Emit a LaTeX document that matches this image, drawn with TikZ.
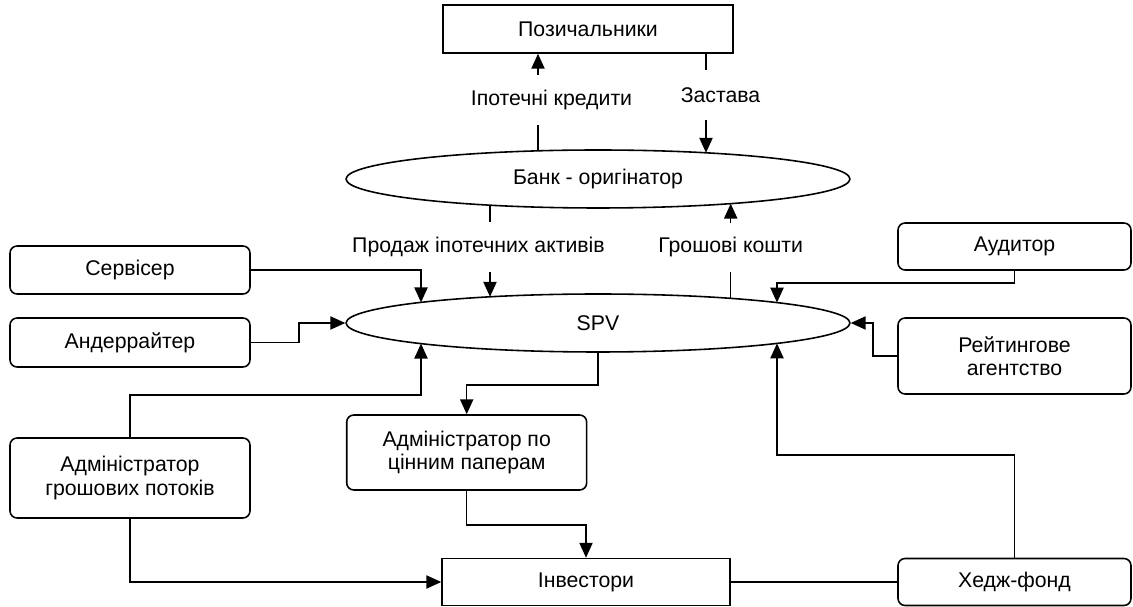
\documentclass[tikz,border=0pt]{standalone}
\usepackage{fontspec}
\setmainfont{Liberation Sans}
\usetikzlibrary{shapes.geometric, arrows.meta, positioning, calc}

\begin{document}
\begin{tikzpicture}[
    x=0.02cm, y=-0.02cm,
    font=\fontsize{12.1}{13.2}\selectfont,
    box/.style={rectangle, draw, line width=0.9pt, align=center, inner sep=2pt},
    rbox/.style={box, rounded corners=4pt},
    oval/.style={ellipse, draw, line width=0.9pt, minimum width=10.08cm, minimum height=1.16cm, inner sep=0pt},
    lbl/.style={fill=white, minimum height=1cm, inner sep=2pt},
    arr/.style={-{Triangle[length=8.5pt, width=7.5pt]}, line width=0.9pt},
    ln/.style={line width=0.9pt}
  ]
  \useasboundingbox (0,0) rectangle (1133,607);

  % participants
  \node[box, minimum width=5.8cm, minimum height=0.96cm] (borrow) at (588,29) {Позичальники};
  \node[oval] (bank) at (598,179) {Банк - оригінатор};
  \node[oval] (spv) at (598,323) {SPV};
  \node[rbox, minimum width=4.8cm, minimum height=0.96cm] (servicer) at (130,270) {Сервісер};
  \node[rbox, minimum width=4.8cm, minimum height=0.98cm] (underwriter) at (130,342.5) {Андеррайтер};
  \node[rbox, minimum width=4.8cm, minimum height=1.6cm] (cashadmin) at (130,478) {Адміністратор\\грошових потоків};
  \node[rbox, minimum width=4.8cm, minimum height=1.5cm] (secadmin) at (466.7,452.5) {Адміністратор по\\цінним паперам};
  \node[box, minimum width=5.76cm, minimum height=0.94cm] (investors) at (586,582) {Інвестори};
  \node[rbox, minimum width=4.66cm, minimum height=0.94cm] (auditor) at (1014.5,246.5) {Аудитор};
  \node[rbox, minimum width=4.66cm, minimum height=1.52cm] (rating) at (1014.5,356) {Рейтингове\\агентство};
  \node[rbox, minimum width=4.66cm, minimum height=0.94cm] (hedge) at (1014.5,582) {Хедж-фонд};

  % points on the ovals
  \coordinate (loanpt) at ($(bank.center)+(-60,-28.2)$);
  \coordinate (pledgept) at ($(bank.center)+(108,-26.2)$);
  \coordinate (salept) at ($(bank.center)+(-108,26.2)$);
  \coordinate (cashpt) at ($(bank.center)+(132.7,24.65)$);
  \coordinate (spvsale) at ($(spv.center)+(-108,-26.2)$);
  \coordinate (spvcash) at ($(spv.center)+(132.7,-24.65)$);
  \coordinate (spvserv) at ($(spv.center)+(-177,-20.6)$);
  \coordinate (spvaudit) at ($(spv.center)+(179,-20.4)$);
  \coordinate (spvflow) at ($(spv.center)+(-177,20.6)$);
  \coordinate (spvhedge) at ($(spv.center)+(179,20.4)$);

  % flows between bank, borrowers and SPV
  \draw[arr] (loanpt) -- node[lbl, xshift=0.27cm, yshift=0.04cm] (loanlbl) {Іпотечні кредити} (loanpt |- borrow.south);
  \draw[arr] (pledgept |- borrow.south) -- node[lbl, xshift=0.29cm, yshift=0.16cm] (pledgelbl) {Застава} (pledgept);
  \draw[arr] (salept) -- node[lbl, xshift=-0.23cm, yshift=0.08cm] (salelbl) {Продаж іпотечних активів} (spvsale);
  \draw[arr] (spvcash) -- node[lbl, yshift=0.07cm] (cashlbl) {Грошові кошти} (cashpt);

  % service providers
  \draw[arr] (servicer.east) -| (spvserv);
  \draw[arr] (underwriter.east) -- ++(48,0) |- (spv.west);
  \draw[arr] (auditor.south) -- ++(0,12) -| (spvaudit);
  \draw[arr] (rating.west) -- ++(-24,0) |- (spv.east);
  \draw[arr] (hedge.north) -- ++(0,-103) -| (spvhedge);
  \draw[ln] (hedge.west) -- (investors.east);
  \draw[arr] (cashadmin.north) -- ++(0,-42) -| (spvflow);
  \draw[arr] (cashadmin.south) |- (investors.west);
  \draw[arr] (spv.south) -- ++(0,32) -| (secadmin.north);
  \draw[arr] (secadmin.south) -- ++(0,34) -| (investors.north);
\end{tikzpicture}
\end{document}
